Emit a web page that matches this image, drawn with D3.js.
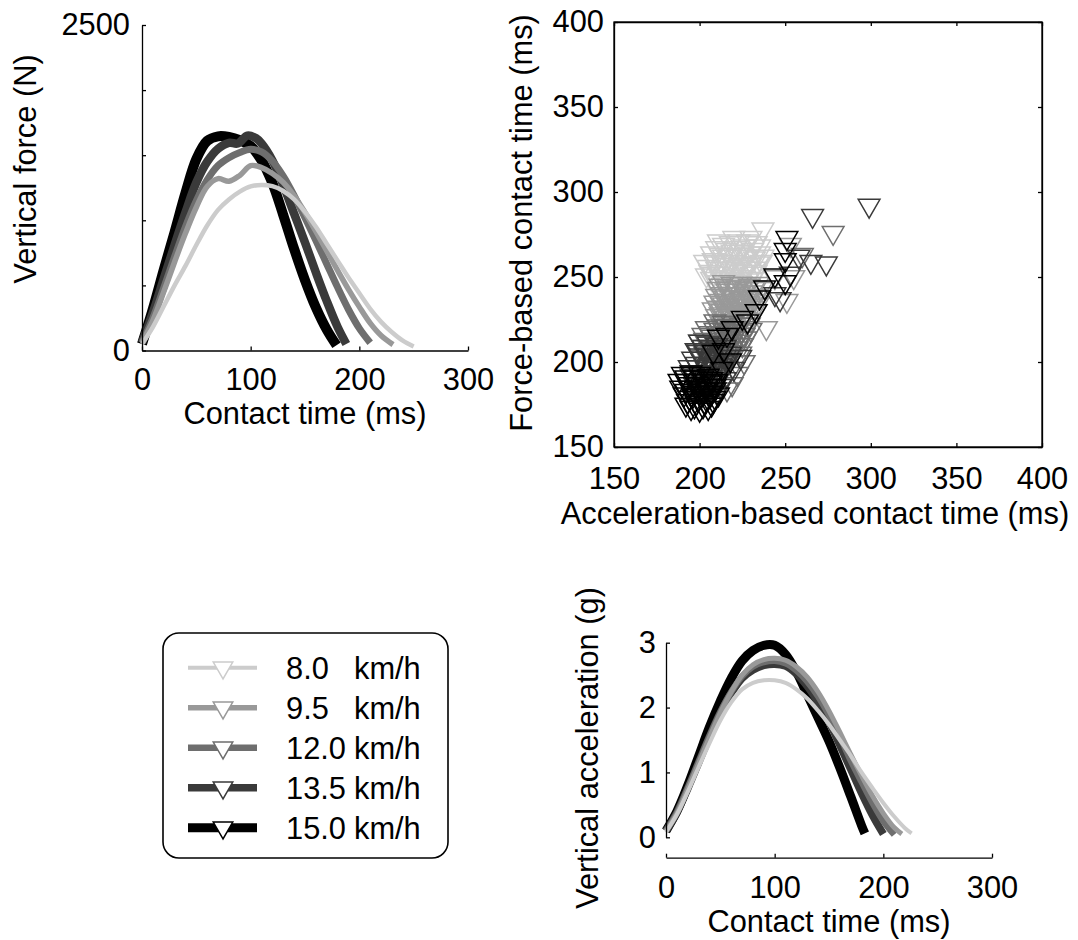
<!DOCTYPE html>
<html><head><meta charset="utf-8">
<script src="https://cdn.jsdelivr.net/npm/d3@7"></script>
<style>
body{margin:0;background:#fff}
svg{display:block}
text{font-family:"Liberation Sans",Arial,sans-serif;fill:#000}
</style>
</head><body>
<svg id="c" width="1078" height="940"></svg>
<script>
// ---------------- DATA ----------------
const speedLabels = ["8.0", "9.5", "12.0", "13.5", "15.0"];
const unitLabel = "km/h";

// Vertical force (N) vs contact time (ms)
const force80 = [[0,50],[10,180],[20,340],[30,500],[40,650],[50,810],[60,960],[70,1080],[80,1160],[90,1220],[100,1260],[110,1272],[120,1262],[130,1225],[140,1160],[150,1065],[160,950],[170,820],[180,690],[190,560],[200,440],[210,320],[220,220],[230,140],[240,75],[250,30]];
const force95 = [[0,60],[10,230],[20,450],[30,680],[40,900],[50,1100],[60,1260],[70,1320],[80,1300],[90,1345],[100,1420],[110,1405],[120,1360],[130,1290],[140,1190],[150,1060],[160,915],[170,765],[180,615],[190,470],[200,335],[210,210],[220,115],[231,45]];
const force120 = [[0,60],[10,250],[20,480],[30,720],[40,950],[50,1150],[60,1310],[70,1420],[80,1480],[90,1520],[100,1545],[110,1525],[120,1455],[130,1340],[140,1190],[150,1020],[160,845],[170,665],[180,485],[190,315],[200,170],[210,60]];
const force135 = [[0,60],[10,290],[20,550],[30,810],[40,1060],[50,1290],[60,1450],[70,1550],[80,1595],[88,1590],[97,1650],[105,1630],[110,1590],[120,1460],[130,1270],[140,1050],[150,830],[160,600],[170,380],[180,180],[188,50]];
const force150 = [[0,50],[10,320],[20,620],[30,910],[40,1210],[50,1470],[60,1610],[70,1645],[80,1640],[90,1615],[100,1570],[110,1460],[120,1285],[130,1040],[140,780],[150,540],[160,330],[170,160],[179,40]];

// Vertical acceleration (g) vs contact time (ms)
const acc80 = [[0,0.08],[10,0.35],[20,0.7],[30,1.08],[40,1.45],[50,1.8],[60,2.08],[70,2.28],[80,2.38],[90,2.42],[100,2.42],[110,2.38],[120,2.28],[130,2.14],[140,1.95],[150,1.74],[160,1.5],[170,1.26],[180,1.0],[190,0.76],[200,0.53],[210,0.32],[220,0.14],[226,0.06]];
const acc95 = [[0,0.1],[10,0.37],[20,0.74],[30,1.14],[40,1.54],[50,1.92],[60,2.24],[70,2.5],[80,2.66],[90,2.74],[100,2.76],[110,2.73],[120,2.63],[130,2.47],[140,2.24],[150,1.95],[160,1.62],[170,1.28],[180,0.95],[190,0.64],[200,0.37],[210,0.15],[217,0.05]];
const acc120 = [[0,0.1],[10,0.38],[20,0.76],[30,1.16],[40,1.56],[50,1.93],[60,2.24],[70,2.48],[80,2.63],[90,2.7],[100,2.72],[110,2.68],[120,2.57],[130,2.4],[140,2.17],[150,1.88],[160,1.55],[170,1.18],[180,0.85],[190,0.53],[200,0.25],[210,0.04]];
const acc135 = [[0,0.1],[10,0.38],[20,0.75],[30,1.15],[40,1.55],[50,1.92],[60,2.22],[70,2.45],[80,2.58],[90,2.65],[100,2.67],[110,2.64],[120,2.52],[130,2.33],[140,2.08],[150,1.78],[160,1.42],[170,1.05],[180,0.68],[190,0.34],[200,0.05]];
const acc150 = [[0,0.1],[10,0.4],[20,0.8],[30,1.25],[40,1.7],[50,2.1],[60,2.45],[70,2.72],[80,2.88],[90,2.96],[100,2.96],[110,2.82],[120,2.55],[130,2.2],[140,1.84],[150,1.48],[160,1.07],[170,0.63],[180,0.18],[183,0.06]];

// Acceleration-based (x) vs force-based (y) contact time (ms)
const scatter80 = [[237,278],[233,270],[228,271],[223,271],[218,270],[214,269],[210,267],[226,268],[221,267],[216,266],[231,266],[235,264],[212,263],[217,262],[222,263],[227,262],[232,261],[208,260],[213,259],[219,259],[224,258],[229,257],[234,258],[205,256],[210,255],[215,255],[220,254],[225,253],[230,252],[204,251],[208,252],[213,250],[218,249],[223,249],[228,248],[216,246],[221,245],[226,246],[211,247],[232,255],[207,264],[237,262],
  [211,271],[220,273],[230,273],[235,268],[229,264],[224,265],[219,265],[214,262],[209,258],[203,259],[206,253],[211,252],[217,257],[222,256],[227,255],[233,253],[231,249],[225,250],[220,251],[215,248],[219,244],[223,247],[228,244],[207,249],[236,259]];
const scatter95 = [[214,247],[219,246],[224,246],[229,245],[234,246],[211,243],[216,242],[221,242],[226,241],[231,241],[236,243],[210,239],[215,238],[220,238],[225,237],[230,237],[235,238],[209,235],[214,234],[219,233],[224,233],[229,233],[234,234],[208,231],[213,230],[218,229],[223,229],[228,230],[233,230],[210,227],[215,226],[220,226],[225,226],[230,225],[213,223],[218,222],[223,222],[255,250],[251,236],[239,220],[253,269],[244,250],
  [212,245],[217,244],[222,244],[227,243],[232,244],[213,240],[218,240],[223,240],[228,239],[233,239],[212,236],[217,236],[222,235],[227,235],[232,236],[211,232],[216,232],[221,231],[226,231],[231,232],[212,228],[217,228],[222,227],[227,228],[216,224]];
const scatter120 = [[209,224],[214,223],[219,223],[224,222],[229,222],[204,220],[209,219],[214,219],[219,218],[224,218],[230,219],[202,216],[207,215],[212,215],[217,214],[222,214],[227,214],[200,212],[205,211],[210,211],[215,210],[220,210],[225,210],[199,207],[204,207],[209,206],[214,206],[219,206],[224,205],[201,203],[206,202],[211,202],[216,201],[221,200],[204,199],[209,198],[214,197],[226,200],[222,193],[219,187],[216,184],[278,276],[260,263],
  [211,221],[216,221],[221,220],[226,220],[206,217],[211,217],[216,216],[221,216],[226,216],[203,213],[208,213],[213,212],[218,212],[223,212],[202,209],[207,209],[212,208],[217,208],[222,208],[203,205],[208,204],[213,204],[218,203],[207,200],[212,200]];
const scatter135 = [[200,212],[205,211],[210,210],[215,209],[198,207],[203,206],[208,206],[213,205],[218,205],[196,202],[201,202],[206,201],[211,200],[216,200],[194,197],[199,197],[204,196],[209,196],[214,195],[195,192],[200,192],[205,191],[210,191],[215,190],[197,187],[202,187],[207,186],[212,186],[200,183],[205,183],[210,182],[220,196],[224,203],[299,292],[266,286],[274,258],[265,259],[247,237],[199,206],[258,262],[253,252],[244,240],
  [202,209],[207,208],[212,207],[200,204],[205,204],[210,203],[215,203],[198,199],[203,199],[208,198],[213,198],[196,194],[201,194],[206,194],[211,193],[199,189],[204,189],[209,188],[203,185],[208,184]];
const scatter150 = [[190,193],[195,194],[200,193],[205,192],[192,189],[197,189],[202,189],[207,188],[189,185],[194,185],[199,184],[204,184],[209,184],[191,181],[196,180],[201,180],[206,180],[211,181],[193,177],[198,176],[203,176],[208,177],[195,173],[200,172],[205,173],[192,175],[210,189],[188,189],
  [251,273],[250,266],[250,260],[250,247],[244,251],[238,244],[235,238],[233,230],[228,224],[225,226],[219,220],[216,216],[211,215],[208,206],[214,207],[218,201],[213,196],
  [192,191],[197,191],[202,191],[207,190],[194,187],[199,187],[204,186],[209,186],[192,183],[197,182],[202,182],[207,182],[194,179],[199,178],[204,178],[209,179],[197,174],[202,174],[207,175]];

// Tick values / labels
const forceXTicks = [0, 100, 200, 300];
const forceYTicks = [0, 500, 1000, 1500, 2000, 2500];
const forceYTickLabels = ["0", "", "", "", "", "2500"];
const scatterTicks = [150, 200, 250, 300, 350, 400];
const accXTicks = [0, 100, 200, 300];
const accYTicks = [0, 1, 2, 3];

// ---------------- STYLE ----------------
const colors = ["#cccccc", "#999999", "#6e6e6e", "#3a3a3a", "#000000"];
const lineWidths = [4.5, 5.5, 7, 8.5, 10];
const legendWidths = [4, 5.5, 6.5, 7.5, 9];
const FONT = 30.8;

const forceSeries = [force80, force95, force120, force135, force150];
const accSeries = [acc80, acc95, acc120, acc135, acc150];
const scatterSeries = [scatter80, scatter95, scatter120, scatter135, scatter150];

const svg = d3.select("#c");
svg.append("rect").attr("width", 1078).attr("height", 940).attr("fill", "#fff");

function styleAxis(g) {
  g.attr("font-size", FONT).attr("font-family", '"Liberation Sans", Arial, sans-serif');
  g.selectAll("path,line").attr("stroke", "#000").attr("stroke-width", 1.3);
  g.selectAll("text").attr("fill", "#000");
}

// ---------------- FORCE PLOT ----------------
const fx = d3.scaleLinear().domain([0, 300]).range([142, 468]);
const fy = d3.scaleLinear().domain([0, 2500]).range([350.5, 25]);
const fLine = d3.line().x(d => fx(d[0])).y(d => fy(d[1])).curve(d3.curveCatmullRom.alpha(0.5));

const fg = svg.append("g");
for (let i = forceSeries.length - 1; i >= 0; i--) {
  fg.append("path").datum(forceSeries[i]).attr("d", fLine)
    .attr("fill", "none").attr("stroke", colors[i]).attr("stroke-width", lineWidths[i])
    .attr("stroke-linejoin", "round").attr("stroke-linecap", "butt");
}
svg.append("g").attr("transform", `translate(0,${fy(0)})`)
  .call(d3.axisBottom(fx).tickValues(forceXTicks).tickSize(-4).tickSizeOuter(0).tickPadding(18))
  .call(styleAxis);
svg.append("g").attr("transform", `translate(${fx(0)},0)`)
  .call(d3.axisLeft(fy).tickValues(forceYTicks).tickFormat((d, i) => forceYTickLabels[i]).tickSize(-4).tickSizeOuter(0).tickPadding(12))
  .call(styleAxis);
svg.append("text").attr("x", 305).attr("y", 424).attr("text-anchor", "middle").attr("font-size", FONT).text("Contact time (ms)");
svg.append("text").attr("transform", "translate(36,169) rotate(-90)").attr("text-anchor", "middle").attr("font-size", FONT).text("Vertical force (N)");

// ---------------- SCATTER PLOT ----------------
const SL = 614, SR = 1042, ST = 22, SB = 447;
const sx = d3.scaleLinear().domain([150, 400]).range([SL, SR]);
const sy = d3.scaleLinear().domain([150, 400]).range([SB, ST]);
const tri = d3.symbol().type(d3.symbolTriangle).size(205);

const sg = svg.append("g");
scatterSeries.forEach((pts, i) => {
  sg.append("g").selectAll("path").data(pts).join("path")
    .attr("d", tri)
    .attr("transform", d => `translate(${sx(d[0])},${sy(d[1])}) rotate(180)`)
    .attr("fill", "none").attr("stroke", colors[i]).attr("stroke-width", 1.5);
});
svg.append("rect").attr("x", SL).attr("y", ST).attr("width", SR - SL).attr("height", SB - ST)
  .attr("fill", "none").attr("stroke", "#000").attr("stroke-width", 1.3);
svg.append("g").attr("transform", `translate(0,${SB})`)
  .call(d3.axisBottom(sx).tickValues(scatterTicks).tickSize(-4).tickSizeOuter(0).tickPadding(20)).call(styleAxis);
svg.append("g").attr("transform", `translate(0,${ST})`)
  .call(d3.axisTop(sx).tickValues(scatterTicks).tickFormat("").tickSize(-4).tickSizeOuter(0)).call(styleAxis);
svg.append("g").attr("transform", `translate(${SL},0)`)
  .call(d3.axisLeft(sy).tickValues(scatterTicks).tickSize(-4).tickSizeOuter(0).tickPadding(10)).call(styleAxis);
svg.append("g").attr("transform", `translate(${SR},0)`)
  .call(d3.axisRight(sy).tickValues(scatterTicks).tickFormat("").tickSize(-4).tickSizeOuter(0)).call(styleAxis);
svg.append("text").attr("x", 815).attr("y", 524).attr("text-anchor", "middle").attr("font-size", FONT)
  .text("Acceleration-based contact time (ms)");
svg.append("text").attr("transform", `translate(532,223) rotate(-90)`).attr("text-anchor", "middle").attr("font-size", FONT)
  .text("Force-based contact time (ms)");

// ---------------- LEGEND ----------------
const lg = svg.append("g");
lg.append("rect").attr("x", 163).attr("y", 633).attr("width", 285).attr("height", 225).attr("rx", 16)
  .attr("fill", "#fff").attr("stroke", "#000").attr("stroke-width", 1.6);
const legTri = d3.symbol().type(d3.symbolTriangle).size(165);
speedLabels.forEach((lab, i) => {
  const cy = 667.7 + i * 40;
  lg.append("line").attr("x1", 188).attr("x2", 257).attr("y1", cy).attr("y2", cy)
    .attr("stroke", colors[i]).attr("stroke-width", legendWidths[i]);
  lg.append("path").attr("d", legTri).attr("transform", `translate(223,${cy}) rotate(180)`)
    .attr("fill", "#fff").attr("stroke", colors[i]).attr("stroke-width", 1.5);
  const t = lg.append("text").attr("y", cy + 10.8).attr("font-size", FONT);
  t.append("tspan").attr("x", 286).text(lab);
  t.append("tspan").attr("x", 354).text(unitLabel);
});

// ---------------- ACCELERATION PLOT ----------------
const ax = d3.scaleLinear().domain([0, 300]).range([666, 992]);
const ay = d3.scaleLinear().domain([0, 3]).range([837.3, 642.7]);
const aLine = d3.line().x(d => ax(d[0])).y(d => ay(d[1])).curve(d3.curveCatmullRom.alpha(0.5));
const ag = svg.append("g");
for (let i = accSeries.length - 1; i >= 0; i--) {
  ag.append("path").datum(accSeries[i]).attr("d", aLine)
    .attr("fill", "none").attr("stroke", colors[i]).attr("stroke-width", lineWidths[i] * 0.9)
    .attr("stroke-linejoin", "round").attr("stroke-linecap", "butt");
}
svg.append("g").attr("transform", `translate(0,857.7)`)
  .call(d3.axisBottom(ax).tickValues(accXTicks).tickSize(-4).tickSizeOuter(0).tickPadding(18)).call(styleAxis);
svg.append("g").attr("transform", `translate(${ax(0)},0)`)
  .call(d3.axisLeft(ay).tickValues(accYTicks).tickFormat(d3.format("d")).tickSize(-4).tickSizeOuter(0).tickPadding(10)).call(styleAxis);
svg.append("text").attr("x", 829).attr("y", 932).attr("text-anchor", "middle").attr("font-size", FONT).text("Contact time (ms)");
svg.append("text").attr("transform", "translate(598,748) rotate(-90)").attr("text-anchor", "middle").attr("font-size", FONT).text("Vertical acceleration (g)");
</script>
</body></html>
